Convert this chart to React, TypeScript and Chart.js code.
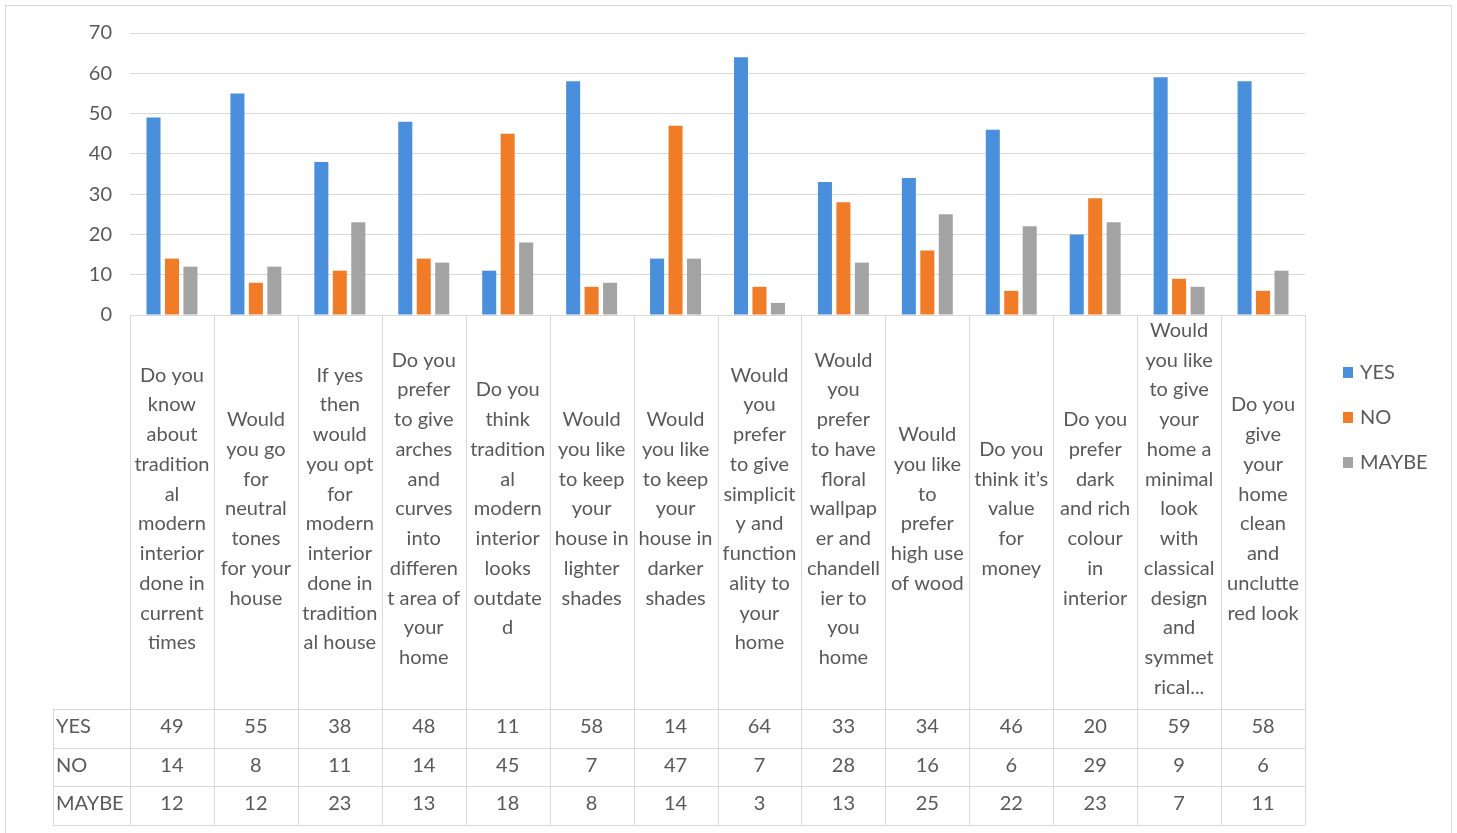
import React, { useEffect, useRef } from "react";
import { Chart, registerables } from "chart.js";

Chart.register(...registerables);

const categoryLines: string[][] = [
  ["Do you", "know", "about", "tradition", "al", "modern", "interior", "done in", "current", "times"],
  ["Would", "you go", "for", "neutral", "tones", "for your", "house"],
  ["If yes", "then", "would", "you opt", "for", "modern", "interior", "done in", "tradition", "al house"],
  ["Do you", "prefer", "to give", "arches", "and", "curves", "into", "differen", "t area of", "your", "home"],
  ["Do you", "think", "tradition", "al", "modern", "interior", "looks", "outdate", "d"],
  ["Would", "you like", "to keep", "your", "house in", "lighter", "shades"],
  ["Would", "you like", "to keep", "your", "house in", "darker", "shades"],
  ["Would", "you", "prefer", "to give", "simplicit", "y and", "function", "ality to", "your", "home"],
  ["Would", "you", "prefer", "to have", "floral", "wallpap", "er and", "chandell", "ier to", "you", "home"],
  ["Would", "you like", "to", "prefer", "high use", "of wood"],
  ["Do you", "think it\u2019s", "value", "for", "money"],
  ["Do you", "prefer", "dark", "and rich", "colour", "in", "interior"],
  ["Would", "you like", "to give", "your", "home a", "minimal", "look", "with", "classical", "design", "and", "symmet", "rical..."],
  ["Do you", "give", "your", "home", "clean", "and", "unclutte", "red look"],
];

const seriesNames = ["YES", "NO", "MAYBE"];
const yesValues = [49, 55, 38, 48, 11, 58, 14, 64, 33, 34, 46, 20, 59, 58];
const noValues = [14, 8, 11, 14, 45, 7, 47, 7, 28, 16, 6, 29, 9, 6];
const maybeValues = [12, 12, 23, 13, 18, 8, 14, 3, 13, 25, 22, 23, 7, 11];
const seriesColors = ["#4A8FDB", "#F07C28", "#A3A3A3"];

const yMin = 0;
const yMax = 70;
const yStep = 10;

const FONT = "Lato, 'Open Sans', sans-serif";
const TEXT = "#595959";
const LINE = "#D9D9D9";

const tablePlugin = {
  id: "tableAndLegend",
  afterDraw(chart: any) {
    const ctx = chart.ctx as CanvasRenderingContext2D;
    const xs = chart.scales.x;
    const { left, right, bottom } = chart.chartArea;
    const n = chart.data.labels.length;
    const cw = (right - left) / n;
    const labelAreaH = 394;
    const rowH = 38.7;
    const headerLeft = 53;
    const tableTop = bottom + labelAreaH;
    const nRows = chart.data.datasets.length;
    const tableBottom = tableTop + rowH * nRows;

    ctx.save();
    ctx.strokeStyle = LINE;
    ctx.lineWidth = 1;
    // vertical column lines
    for (let i = 0; i <= n; i++) {
      const xp = Math.round(i < n ? xs.getPixelForValue(i) - cw / 2 : xs.getPixelForValue(n - 1) + cw / 2) + 0.5;
      ctx.beginPath();
      ctx.moveTo(xp, bottom);
      ctx.lineTo(xp, tableBottom);
      ctx.stroke();
    }
    // header column left line
    ctx.beginPath();
    ctx.moveTo(headerLeft + 0.5, tableTop);
    ctx.lineTo(headerLeft + 0.5, tableBottom);
    ctx.stroke();
    // horizontal row lines
    for (let r = 0; r <= nRows; r++) {
      const yp = Math.round(tableTop + r * rowH) + 0.5;
      ctx.beginPath();
      ctx.moveTo(headerLeft, yp);
      ctx.lineTo(right, yp);
      ctx.stroke();
    }

    // category labels
    ctx.fillStyle = TEXT;
    ctx.font = `20px ${FONT}`;
    ctx.textAlign = "center";
    ctx.textBaseline = "middle";
    const lineH = 29.75;
    const midY = bottom + labelAreaH / 2 - 3;
    chart.data.labels.forEach((lines: string[], i: number) => {
      const cx = xs.getPixelForValue(i);
      const y0 = midY - ((lines.length - 1) * lineH) / 2;
      lines.forEach((ln, k) => ctx.fillText(ln, cx, y0 + k * lineH));
    });

    // table values + row headers
    chart.data.datasets.forEach((ds: any, r: number) => {
      const cy = tableTop + r * rowH + rowH / 2 - 2;
      ctx.textAlign = "left";
      ctx.fillText(ds.label, headerLeft + 3, cy);
      ctx.textAlign = "center";
      ds.data.forEach((v: number, i: number) => {
        ctx.fillText(String(v), xs.getPixelForValue(i), cy);
      });
    });

    // legend
    const legX = 1343;
    const legY0 = 373;
    const legGap = 45;
    chart.data.datasets.forEach((ds: any, r: number) => {
      const cy = legY0 + r * legGap;
      ctx.fillStyle = ds.backgroundColor;
      ctx.fillRect(legX, cy - 6, 10, 11);
      ctx.fillStyle = TEXT;
      ctx.textAlign = "left";
      ctx.fillText(ds.label, legX + 17, cy);
    });

    // outer border
    ctx.strokeStyle = LINE;
    ctx.strokeRect(5.5, 5.5, chart.width - 11, chart.height - 3);
    ctx.restore();
  },
};

export default function App() {
  const ref = useRef<HTMLCanvasElement>(null);

  useEffect(() => {
    if (!ref.current) return;
    const values = [yesValues, noValues, maybeValues];
    const chart = new Chart(ref.current, {
      type: "bar",
      data: {
        labels: categoryLines,
        datasets: seriesNames.map((name, i) => ({
          label: name,
          data: values[i],
          backgroundColor: seriesColors[i],
          borderWidth: 0,
          categoryPercentage: 0.66,
          barPercentage: 0.76,
        })),
      },
      options: {
        animation: false,
        responsive: true,
        maintainAspectRatio: false,
        devicePixelRatio: 1,
        layout: { padding: { left: 0, top: 33, right: 152, bottom: 518 } },
        plugins: {
          legend: { display: false },
          tooltip: { enabled: false },
          title: { display: false },
        },
        scales: {
          x: {
            display: false,
            offset: true,
            grid: { display: false },
          },
          y: {
            min: yMin,
            max: yMax,
            afterFit: (scale: any) => {
              scale.width = 130;
            },
            ticks: {
              stepSize: yStep,
              color: TEXT,
              font: { family: FONT, size: 20 },
              padding: 18,
            },
            grid: { color: LINE, lineWidth: 1, drawTicks: false },
            border: { display: false },
          },
        },
      },
      plugins: [tablePlugin],
    });
    return () => chart.destroy();
  }, []);

  return (
    <div style={{ position: "fixed", left: 0, top: 0, width: 1457, height: 833, background: "#fff" }}>
      <canvas ref={ref} />
    </div>
  );
}
